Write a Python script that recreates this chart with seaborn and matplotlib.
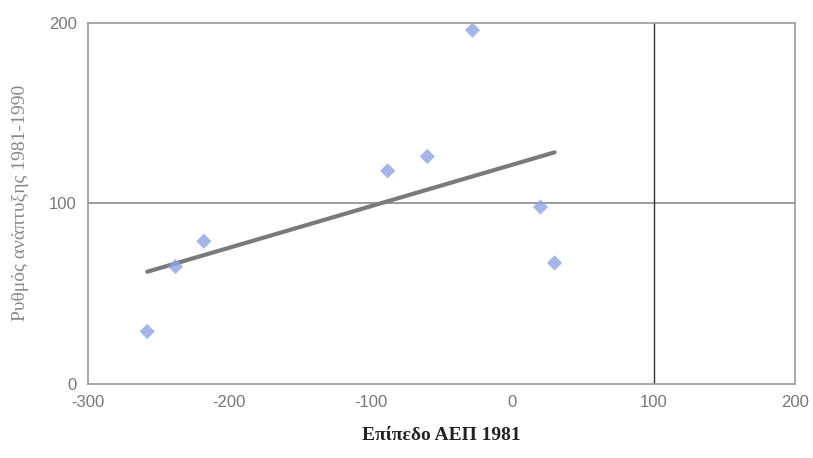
import matplotlib
matplotlib.use("Agg")
import matplotlib.pyplot as plt
import pandas as pd
import seaborn as sns

# Επίπεδο ΑΕΠ 1981 vs Ρυθμός ανάπτυξης 1981-1990
epipedo_aep = [-258, -238, -218, -88, -60, -28, 20, 30]
rythmos = [29, 65, 79, 118, 126, 196, 98, 67]

df = pd.DataFrame({"x": epipedo_aep, "y": rythmos})

sns.set_style("white")
plt.rcParams["font.family"] = ["Liberation Sans", "DejaVu Sans"]
plt.rcParams["axes.unicode_minus"] = False

fig = plt.figure(figsize=(8.13, 4.58), dpi=100)
ax = fig.add_axes([0.108, 0.162, 0.870, 0.788])

ax.axhline(100, color="#8a8a8a", lw=1.2, zorder=1)
ax.axvline(100, color="#333333", lw=1.0, zorder=1)

sns.regplot(data=df, x="x", y="y", ci=None, ax=ax,
            marker="D",
            scatter_kws={"s": 60, "color": "#8fa3e3", "edgecolor": "none", "zorder": 3},
            line_kws={"color": "#7a7a7a", "lw": 3, "zorder": 2})

ax.set_xlim(-300, 200)
ax.set_ylim(0, 200)
ax.set_xticks([-300, -200, -100, 0, 100, 200])
ax.set_yticks([0, 100, 200])
ax.tick_params(axis="both", labelsize=12, colors="#777777", length=0, pad=8)

for s in ax.spines.values():
    s.set_color("#999999")
    s.set_linewidth(1.2)

ax.set_xlabel("Επίπεδο ΑΕΠ 1981", family=["Liberation Serif", "DejaVu Serif"],
              fontweight="bold", fontsize=14, color="#222222", labelpad=12)
ax.set_ylabel("Ρυθμός ανάπτυξης 1981-1990", family=["Liberation Serif", "DejaVu Serif"],
              fontsize=14, color="#888888", labelpad=14)

fig.savefig("out.png", dpi=100)
